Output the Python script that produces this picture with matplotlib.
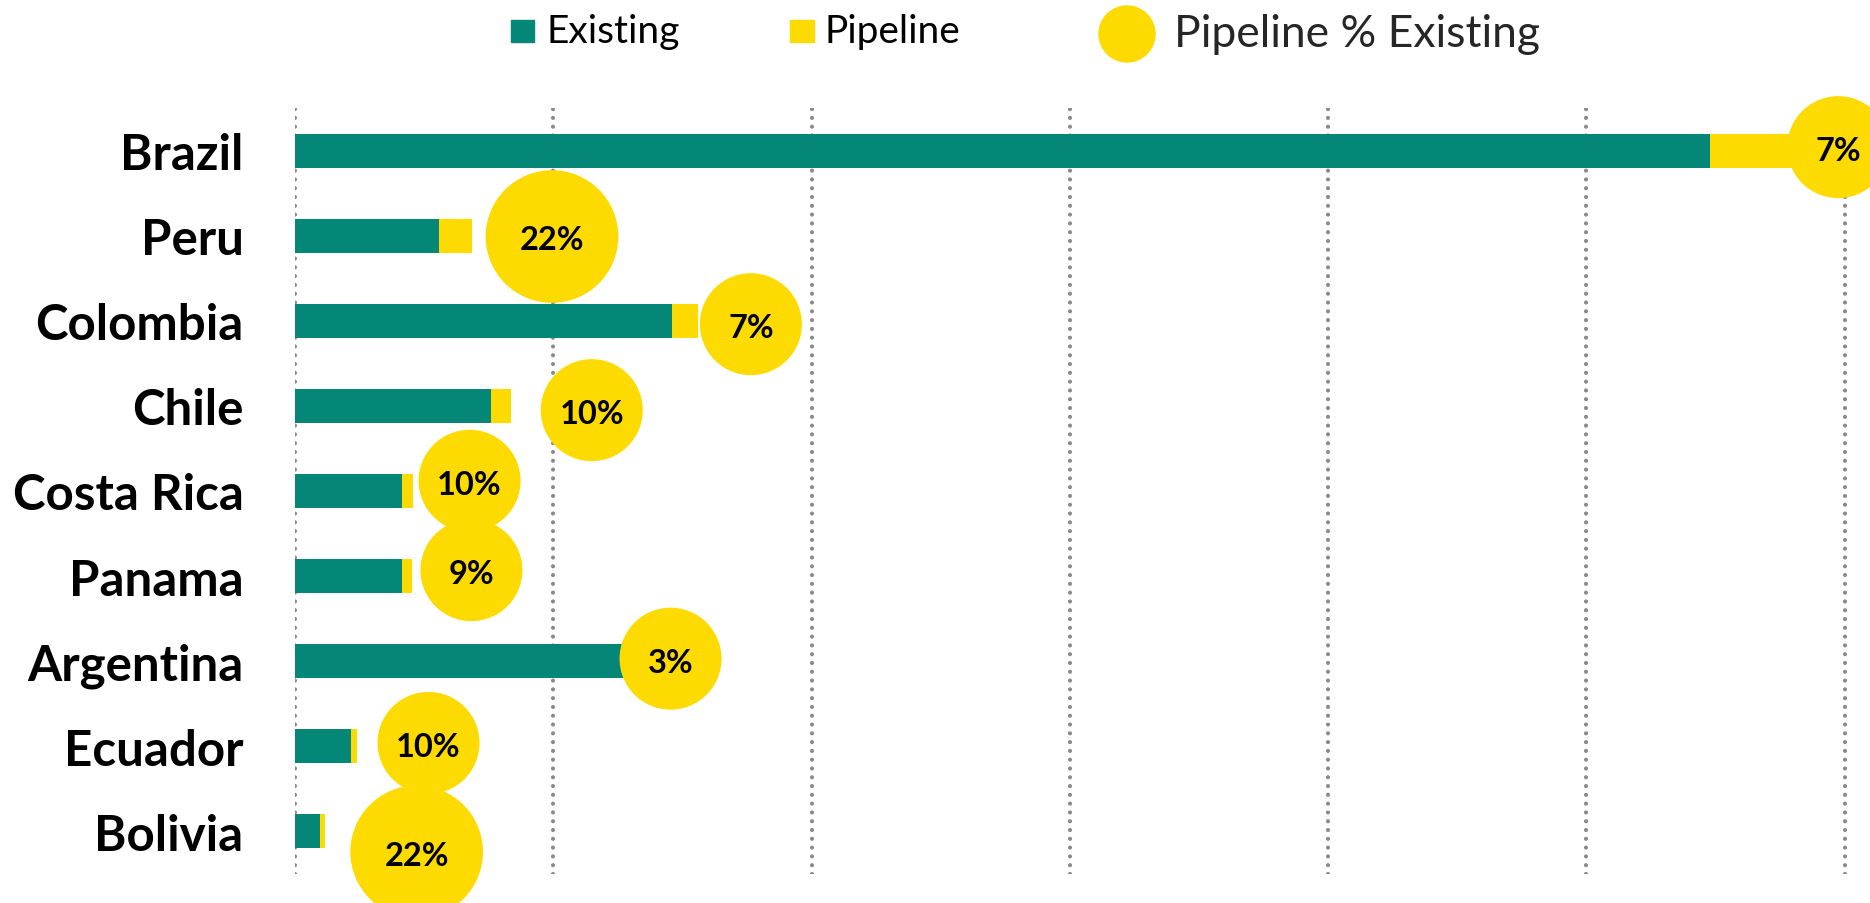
import numpy as np
import matplotlib
matplotlib.use("Agg")
import matplotlib.pyplot as plt
from matplotlib.patches import Rectangle, Circle

plt.rcParams['font.family'] = ['Lato', 'DejaVu Sans']

# data (units: rooms, gridline every 10,000)
countries = ["Brazil", "Peru", "Colombia", "Chile", "Costa Rica",
             "Panama", "Argentina", "Ecuador", "Bolivia"]
existing = [54800, 5590, 14600, 7590, 4140, 4140, 13200, 2180, 970]
pipeline = [3840, 1250, 1000, 770, 430, 400, 400, 220, 210]
pct = [7, 22, 7, 10, 10, 9, 3, 10, 22]          # pipeline % existing
bubble_x = [59750, 9950, 17650, 11490, 6760, 6830, 14540, 5170, 4710]
bubble_y = [-0.04, 1.01, 2.04, 3.05, 3.88, 4.93, 5.97, 6.96, 8.24]

teal = "#048776"
yellow = "#FDDA00"
W, H = 1870, 904

fig = plt.figure(figsize=(W / 100, H / 100), dpi=100)
ax = fig.add_axes([295 / W, 1 - 875 / H, 1 - 295 / W, (875 - 109) / H])

ypos = np.arange(len(countries))
ax.barh(ypos, existing, height=0.4, color=teal, zorder=2)
ax.barh(ypos, pipeline, left=existing, height=0.4, color=yellow, zorder=2)

# bubbles: area grows with pct, with a minimum size
rad_px = 51 * np.maximum(1, np.sqrt(np.array(pct) / 13))
sizes = (2 * rad_px * 72 / 100) ** 2
ax.scatter(bubble_x, bubble_y, s=sizes, color=yellow, linewidths=0,
           zorder=3, clip_on=False)
for bx, by, p in zip(bubble_x, bubble_y, pct):
    ax.text(bx, by + 0.04, f"{p}%", ha='center', va='center', fontsize=23.5,
            fontweight='bold', color='black', zorder=4, clip_on=False)

ax.set_xlim(0, 60980)
ax.set_ylim(8.5, -0.5)
ax.set_xticks(np.arange(0, 60001, 10000))
ax.grid(axis='x', color='#8a8a8a', linewidth=3, linestyle=(0, (0.01, 2.1)),
        dash_capstyle='round', zorder=1)
ax.set_axisbelow(True)
ax.set_yticks(ypos)
ax.set_yticklabels(countries, fontsize=35.5, fontweight='bold')
ax.tick_params(axis='y', length=0, pad=37)
ax.tick_params(axis='x', length=0, labelbottom=False)
for s in ax.spines.values():
    s.set_visible(False)

# legend drawn by hand at the top
tr = fig.dpi_scale_trans
fig.add_artist(Rectangle((511 / 100, (H - 43.3) / 100), 0.23, 0.226,
                         color=teal, transform=tr))
fig.add_artist(Rectangle((790 / 100, (H - 43.3) / 100), 0.24, 0.226,
                         color=yellow, transform=tr))
fig.add_artist(Circle((1127 / 100, (H - 35) / 100), 0.28,
                      color=yellow, transform=tr))
fig.text(546 / W, 1 - 43.3 / H, "Existing", fontsize=28, color='black',
         ha='left', va='baseline')
fig.text(825 / W, 1 - 43.3 / H, "Pipeline", fontsize=28, color='black',
         ha='left', va='baseline')
fig.text(1174 / W, 1 - 46.7 / H, "Pipeline % Existing", fontsize=32,
         color='#262626', ha='left', va='baseline')

fig.savefig("out.png", dpi=100)
